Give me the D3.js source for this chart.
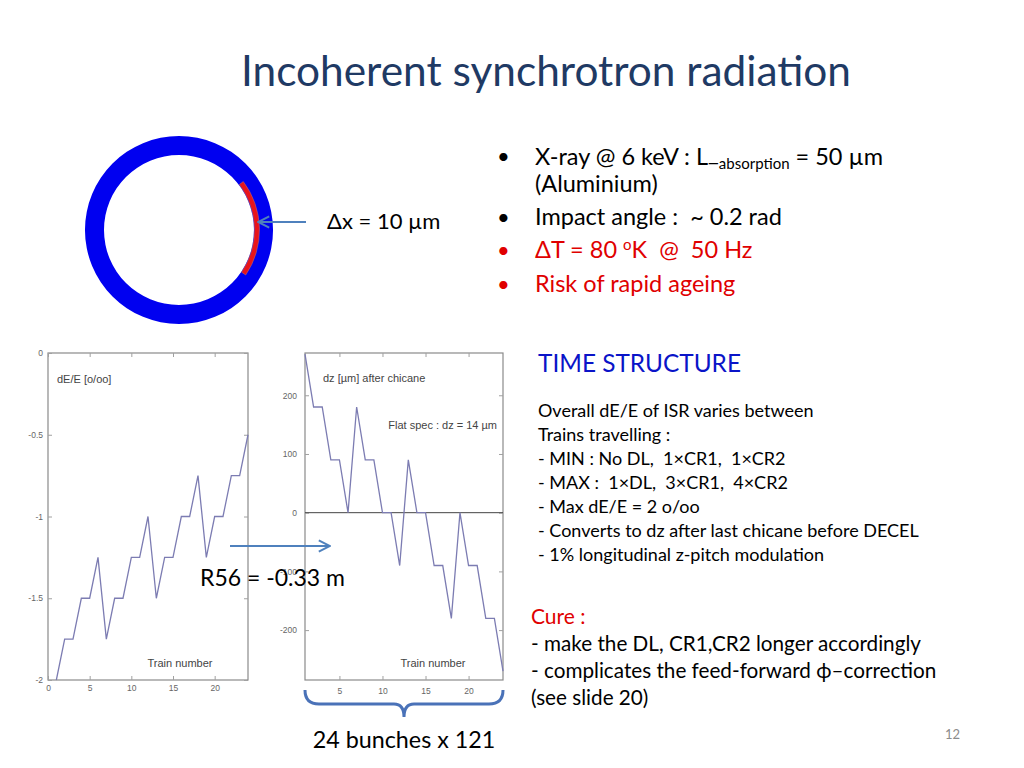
<!DOCTYPE html>
<html>
<head>
<meta charset="utf-8">
<script src="https://cdn.jsdelivr.net/npm/d3@7"></script>
<style>
  body { margin: 0; background: #fff; }
  svg { display: block; }
  .slide { font-family: Lato, "Open Sans", sans-serif; }
  .plot text { font-family: "Liberation Sans", Arial, sans-serif; }
</style>
</head>
<body>
<svg id="chart" width="1024" height="768"></svg>
<script>
// train number along both plots
var trains = [1, 2, 3, 4, 5, 6, 7, 8, 9, 10, 11, 12, 13, 14, 15, 16, 17, 18, 19, 20, 21, 22, 23, 24];
// overall dE/E of each train [o/oo]
var dEE = [-2, -1.75, -1.75, -1.5, -1.5, -1.25, -1.75, -1.5, -1.5, -1.25, -1.25, -1,
           -1.5, -1.25, -1.25, -1, -1, -0.75, -1.25, -1, -1, -0.75, -0.75, -0.5];
// dz after the chicane [um]
var dz = [270, 180, 180, 90, 90, 0, 180, 90, 90, 0, 0, -90,
          90, 0, 0, -90, -90, -180, 0, -90, -90, -180, -180, -270];

var leftXTicks = [0, 5, 10, 15, 20];
var leftYTicks = [0, -0.5, -1, -1.5, -2];
var rightXTicks = [5, 10, 15, 20];
var rightYTicks = [200, 100, 0, -100, -200];

var svg = d3.select("#chart");
var defs = svg.append("defs");
defs.append("marker")
    .attr("id", "head")
    .attr("viewBox", "0 0 10 10")
    .attr("refX", 9).attr("refY", 5)
    .attr("markerWidth", 7).attr("markerHeight", 7)
    .attr("orient", "auto-start-reverse")
    .append("path")
    .attr("d", "M1,1 L9,5 L1,9")
    .attr("fill", "none")
    .attr("stroke", "#4f81bd").attr("stroke-width", 1.4);

// ---- the two gnuplot style panels
function panel(opts) {
    var g = svg.append("g").attr("class", "plot");
    var x = d3.scaleLinear().domain(opts.xDomain).range([opts.left, opts.right]);
    var y = d3.scaleLinear().domain(opts.yDomain).range([opts.bottom, opts.top]);
    var fmt = function(d) { return String(d); };

    g.append("rect")
        .attr("x", opts.left).attr("y", opts.top)
        .attr("width", opts.right - opts.left).attr("height", opts.bottom - opts.top)
        .attr("fill", "#fff").attr("stroke", "#8a8a8a").attr("stroke-width", 1.2);

    var axes = [
        {ax: d3.axisLeft(y).tickValues(opts.yTicks).tickFormat(fmt), t: "translate(" + opts.left + ",0)"},
        {ax: d3.axisRight(y).tickValues(opts.yTicks).tickFormat(""), t: "translate(" + opts.right + ",0)"},
        {ax: d3.axisBottom(x).tickValues(opts.xTicks).tickFormat(fmt), t: "translate(0," + opts.bottom + ")"},
        {ax: d3.axisTop(x).tickValues(opts.xTicks).tickFormat(""), t: "translate(0," + opts.top + ")"}
    ];
    axes.forEach(function(a) {
        var ag = g.append("g").attr("transform", a.t)
            .call(a.ax.tickSize(-4).tickSizeOuter(0).tickPadding(opts.pad));
        ag.select(".domain").remove();
        ag.selectAll("line").attr("stroke", "#a0a0a0");
        ag.selectAll("text").attr("fill", "#666").attr("font-size", 8.5);
    });

    if (opts.zero) {
        g.append("line")
            .attr("x1", opts.left).attr("x2", opts.right)
            .attr("y1", y(0)).attr("y2", y(0))
            .attr("stroke", "#444").attr("stroke-width", 1);
    }

    var line = d3.line()
        .x(function(d, i) { return x(trains[i]); })
        .y(function(d) { return y(d); });
    g.append("path")
        .datum(opts.values)
        .attr("fill", "none")
        .attr("stroke", "#7c7cb2")
        .attr("stroke-width", 1.3)
        .attr("d", line);

    opts.labels.forEach(function(l) {
        g.append("text").attr("x", l.x).attr("y", l.y)
            .attr("text-anchor", l.anchor || "start")
            .attr("font-size", 11).attr("fill", "#444")
            .text(l.text);
    });
}

panel({
    left: 48, right: 248, top: 353, bottom: 680,
    xDomain: [0, 24], yDomain: [-2, 0],
    xTicks: leftXTicks, yTicks: leftYTicks,
    values: dEE, pad: 5, zero: false,
    labels: [
        {x: 57, y: 383, text: "dE/E [o/oo]"},
        {x: 180, y: 667, text: "Train number", anchor: "middle"}
    ]
});

panel({
    left: 305, right: 503, top: 353, bottom: 680,
    xDomain: [1, 24], yDomain: [-285, 272],
    xTicks: rightXTicks, yTicks: rightYTicks,
    values: dz, pad: 8, zero: true,
    labels: [
        {x: 323, y: 382, text: "dz [µm] after chicane"},
        {x: 497, y: 429, text: "Flat spec : dz = 14 µm", anchor: "end"},
        {x: 433, y: 667, text: "Train number", anchor: "middle"}
    ]
});

var slide = svg.append("g").attr("class", "slide");

// title
slide.append("text")
    .attr("x", 546).attr("y", 86)
    .attr("text-anchor", "middle")
    .attr("font-size", 42.4)
    .attr("fill", "#1f3a64")
    .text("Incoherent synchrotron radiation");

// pipe cross section
var ring = d3.arc().innerRadius(75).outerRadius(94).startAngle(0).endAngle(2 * Math.PI);
slide.append("path")
    .attr("transform", "translate(179,230)")
    .attr("d", ring())
    .attr("fill", "#0000f0");
var hit = d3.arc().innerRadius(75.5).outerRadius(80.5)
    .startAngle(53 * Math.PI / 180).endAngle(124 * Math.PI / 180);
slide.append("path")
    .attr("transform", "translate(179,230)")
    .attr("d", hit())
    .attr("fill", "#e8141a")
    .attr("stroke", "#b07080").attr("stroke-width", 0.5);

slide.append("line")
    .attr("x1", 306).attr("y1", 222).attr("x2", 258).attr("y2", 222)
    .attr("stroke", "#4f81bd").attr("stroke-width", 2)
    .attr("marker-end", "url(#head)");
slide.append("text")
    .attr("x", 327).attr("y", 229)
    .attr("font-size", 22)
    .text("Δx = 10 µm");

// bullets top right
var bullets = [
    {y: 164, color: "#000"},
    {y: 225, color: "#000"},
    {y: 258, color: "#e00000"},
    {y: 292, color: "#e00000"}
];
bullets.forEach(function(b) {
    slide.append("text").attr("x", 497).attr("y", b.y)
        .attr("font-size", 22).attr("fill", b.color).text("•");
});
var l1 = slide.append("text").attr("x", 535).attr("y", 165).attr("font-size", 23.5);
l1.append("tspan").text("X-ray @ 6 keV : L");
l1.append("tspan").text("_").attr("dy", -4);
l1.append("tspan").text("absorption").attr("font-size", 15).attr("dy", 8);
l1.append("tspan").text(" = 50 µm").attr("dy", -4);
slide.append("text").attr("x", 535).attr("y", 192).attr("font-size", 23.5).text("(Aluminium)");
slide.append("text").attr("x", 535).attr("y", 225).attr("font-size", 23.5)
    .attr("xml:space", "preserve").text("Impact angle :  ~ 0.2 rad");
var l3 = slide.append("text").attr("x", 535).attr("y", 258).attr("font-size", 23.5)
    .attr("fill", "#e00000").attr("xml:space", "preserve");
l3.append("tspan").text("ΔT = 80 ");
l3.append("tspan").text("o").attr("font-size", 15).attr("dy", -8);
l3.append("tspan").text("K  @  50 Hz").attr("dy", 8);
slide.append("text").attr("x", 535).attr("y", 292).attr("font-size", 23.5)
    .attr("fill", "#e00000").text("Risk of rapid ageing");

// time structure block
slide.append("text").attr("x", 538).attr("y", 372).attr("font-size", 24.4)
    .attr("fill", "#0a14c8").text("TIME STRUCTURE");
var notes = [
    "Overall dE/E of ISR varies between",
    "Trains travelling :",
    "- MIN : No DL,  1×CR1,  1×CR2",
    "- MAX :  1×DL,  3×CR1,  4×CR2",
    "- Max dE/E = 2 o/oo",
    "- Converts to dz after last chicane before DECEL",
    "- 1% longitudinal z-pitch modulation"
];
slide.selectAll("text.note").data(notes).enter().append("text")
    .attr("class", "note")
    .attr("x", 538)
    .attr("y", function(d, i) { return 417 + i * 24; })
    .attr("font-size", 18)
    .attr("xml:space", "preserve")
    .text(function(d) { return d; });

slide.append("text").attr("x", 531).attr("y", 624).attr("font-size", 21)
    .attr("fill", "#e00000").text("Cure :");
var cure = [
    "- make the DL, CR1,CR2 longer accordingly",
    "- complicates the feed-forward ϕ–correction",
    "(see slide 20)"
];
slide.selectAll("text.cure").data(cure).enter().append("text")
    .attr("class", "cure")
    .attr("x", 531)
    .attr("y", function(d, i) { return 651 + i * 27; })
    .attr("font-size", 20.7)
    .text(function(d) { return d; });

slide.append("text").attr("x", 960).attr("y", 739).attr("text-anchor", "end")
    .attr("font-size", 13).attr("fill", "#8c8c8c").text("12");

// R56 arrow and note, drawn over the plots
slide.append("line")
    .attr("x1", 230).attr("y1", 546).attr("x2", 330).attr("y2", 546)
    .attr("stroke", "#4f81bd").attr("stroke-width", 2)
    .attr("marker-end", "url(#head)");
slide.append("text").attr("x", 200).attr("y", 586).attr("font-size", 23)
    .text("R56 = -0.33 m");

// brace under right plot
var bx0 = 305, bx1 = 503, bm = (bx0 + bx1) / 2, by = 690;
var brace = d3.path();
brace.moveTo(bx0, by);
brace.quadraticCurveTo(bx0, by + 14, bx0 + 14, by + 14);
brace.lineTo(bm - 10, by + 14);
brace.quadraticCurveTo(bm, by + 14, bm, by + 27);
brace.quadraticCurveTo(bm, by + 14, bm + 10, by + 14);
brace.lineTo(bx1 - 14, by + 14);
brace.quadraticCurveTo(bx1, by + 14, bx1, by);
slide.append("path").attr("d", brace.toString())
    .attr("fill", "none").attr("stroke", "#4a72b8").attr("stroke-width", 3);
slide.append("text").attr("x", bm).attr("y", 748).attr("text-anchor", "middle")
    .attr("font-size", 23.3).text("24 bunches x 121");
</script>
</body>
</html>
